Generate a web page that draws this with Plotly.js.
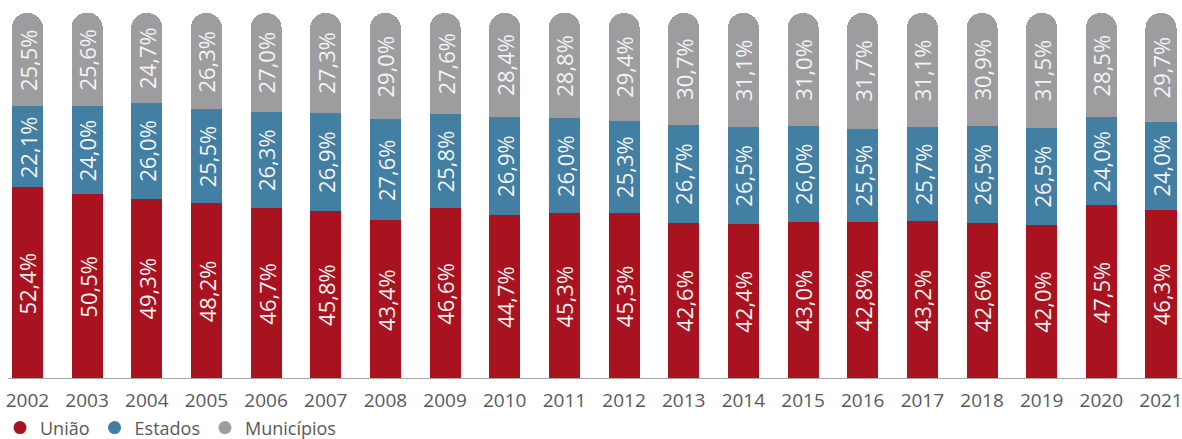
<!DOCTYPE html>
<html>
<head>
<meta charset="utf-8">
<script src="https://cdn.plot.ly/plotly-3.0.1.min.js"></script>
<style>html,body{margin:0;padding:0;background:#fff;}#chart{width:1182px;height:439px;}</style>
</head>
<body>
<div id="chart"></div>
<script>
const years = ['2002','2003','2004','2005','2006','2007','2008','2009','2010','2011','2012','2013','2014','2015','2016','2017','2018','2019','2020','2021'];
const uniao = [52.4,50.5,49.3,48.2,46.7,45.8,43.4,46.6,44.7,45.3,45.3,42.6,42.4,43.0,42.8,43.2,42.6,42.0,47.5,46.3];
const estados = [22.1,24.0,26.0,25.5,26.3,26.9,27.6,25.8,26.9,26.0,25.3,26.7,26.5,26.0,25.5,25.7,26.5,26.5,24.0,24.0];
const municipios = [25.5,25.6,24.7,26.3,27.0,27.3,29.0,27.6,28.4,28.8,29.4,30.7,31.1,31.0,31.7,31.1,30.9,31.5,28.5,29.7];
const seriesNames = ['União','Estados','Municípios'];
const colors = ['#A8131F','#427FA3','#9D9D9F'];

const FONT = '"Open Sans", "Noto Sans", sans-serif';
const fmt = v => v.toFixed(1).replace('.', ',') + '%';
const series = [uniao, estados, municipios];

const data = series.map((vals, i) => ({
  type: 'bar',
  x: years,
  y: vals,
  name: seriesNames[i],
  textposition: 'none',
  marker: {color: colors[i]},
  showlegend: false,
  hoverinfo: 'skip'
}));

seriesNames.forEach((n, i) => data.push({
  type: 'scatter', mode: 'markers', x: [null], y: [null], name: n,
  marker: {symbol: 'circle', size: 13, color: colors[i]},
  showlegend: true, hoverinfo: 'skip'
}));

// value labels centred in each segment, placed through the data axes (category index j)
const annotations = [];
years.forEach((yr, j) => {
  let base = 0;
  series.forEach((vals) => {
    annotations.push({
      x: j, y: base + vals[j] / 2, xref: 'x', yref: 'y',
      text: fmt(vals[j]), showarrow: false, textangle: -90,
      xanchor: 'center', yanchor: 'middle',
      font: {family: FONT, size: 22, color: '#F4F4F4'}
    });
    base += vals[j];
  });
});

const layout = {
  width: 1182, height: 439,
  margin: {l: 0, r: 0, t: 13, b: 60, autoexpand: false},
  barmode: 'stack',
  bargap: 0.48,
  barcornerradius: '50%',
  paper_bgcolor: '#ffffff',
  plot_bgcolor: '#ffffff',
  xaxis: {
    type: 'category',
    range: [-0.46, 19.352],
    showgrid: false, zeroline: false, showline: false,
    ticks: 'outside', ticklen: 4, tickcolor: 'rgba(0,0,0,0)',
    tickfont: {family: FONT, size: 19, color: '#595959'},
    automargin: false,
    fixedrange: true
  },
  yaxis: {
    range: [0, 100],
    visible: false,
    fixedrange: true
  },
  shapes: [{
    type: 'line', xref: 'paper', yref: 'y',
    x0: 8/1182, x1: 1, y0: 0, y1: 0,
    line: {color: '#A6A6A6', width: 2},
    layer: 'above'
  }],
  annotations: annotations,
  legend: {
    orientation: 'h',
    traceorder: 'normal',
    x: 0, xanchor: 'left',
    y: -0.083, yanchor: 'top',
    font: {family: FONT, size: 18, color: '#595959'},
    bgcolor: 'rgba(0,0,0,0)'
  },
  showlegend: true
};

Plotly.newPlot('chart', data, layout, {displayModeBar: false, staticPlot: true});
</script>
</body>
</html>
